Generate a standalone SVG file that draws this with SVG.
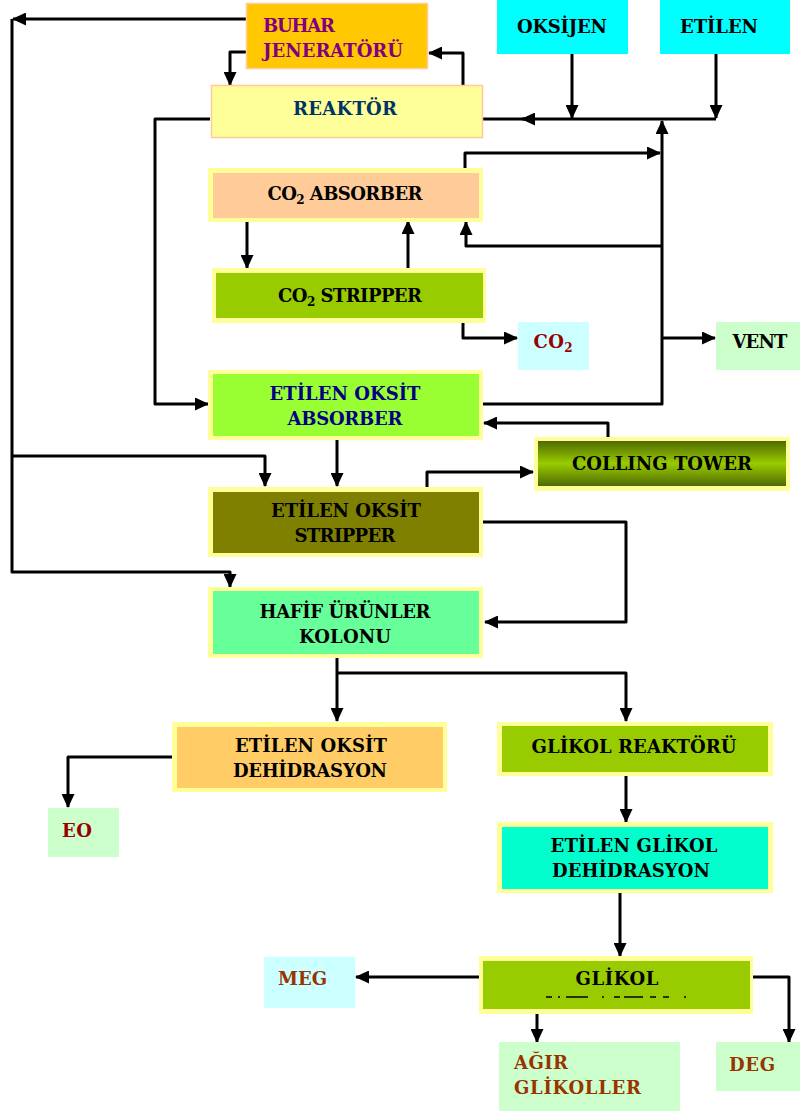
<svg xmlns="http://www.w3.org/2000/svg" width="800" height="1111" viewBox="0 0 800 1111">
  <style>
    text { font-family: "DejaVu Serif", "Liberation Serif", serif; font-weight: bold; font-size: 18px; fill: #000; }
    .mid { text-anchor: middle; }
    .sub { font-size: 12px; }
    .glow { fill: #FFFF99; }
    .flow { fill: none; stroke: #000; stroke-width: 3; stroke-linejoin: round; }
    .purple { fill: #800080; }
    .navy { fill: #003366; }
    .blue { fill: #000080; }
    .red { fill: #990000; }
    .brown { fill: #993300; }
  </style>
  <defs>
    <marker id="arrow" markerUnits="userSpaceOnUse" markerWidth="14" markerHeight="13" refX="13" refY="6.5" orient="auto">
      <path d="M0,0 L14,6.5 L0,13 z" fill="#000"/>
    </marker>
    <linearGradient id="towerFill" x1="0" y1="0" x2="0" y2="1">
      <stop offset="0" stop-color="#4F6A00"/>
      <stop offset="0.5" stop-color="#99CC00"/>
      <stop offset="1" stop-color="#4F6A00"/>
    </linearGradient>
  </defs>

  <!-- connectors -->
  <g id="connectors">
    <path class="flow" d="M246,19 H13" marker-end="url(#arrow)"/>
    <path class="flow" d="M12,19 V572 H230 V587" marker-end="url(#arrow)"/>
    <path class="flow" d="M12,456 H265 V486" marker-end="url(#arrow)"/>
    <path class="flow" d="M246,52 H230 V85" marker-end="url(#arrow)"/>
    <path class="flow" d="M463,85 V53 H429" marker-end="url(#arrow)"/>
    <path class="flow" d="M572,54 V118" marker-end="url(#arrow)"/>
    <path class="flow" d="M716,54 V118" marker-end="url(#arrow)"/>
    <path class="flow" d="M716,119 H522" marker-end="url(#arrow)"/>
    <path class="flow" d="M526,119 H483"/>
    <path class="flow" d="M483,404 H662 V121" marker-end="url(#arrow)"/>
    <path class="flow" d="M465,168 V153 H660" marker-end="url(#arrow)"/>
    <path class="flow" d="M662,246 H466 V222" marker-end="url(#arrow)"/>
    <path class="flow" d="M662,338 H715" marker-end="url(#arrow)"/>
    <path class="flow" d="M247,222 V268" marker-end="url(#arrow)"/>
    <path class="flow" d="M408,268 V221" marker-end="url(#arrow)"/>
    <path class="flow" d="M463,323 V338 H517" marker-end="url(#arrow)"/>
    <path class="flow" d="M210,119 H155 V404 H208" marker-end="url(#arrow)"/>
    <path class="flow" d="M337,440 V486" marker-end="url(#arrow)"/>
    <path class="flow" d="M608,437 V423 H484" marker-end="url(#arrow)"/>
    <path class="flow" d="M427,487 V472 H533" marker-end="url(#arrow)"/>
    <path class="flow" d="M483,522 H626 V622 H485" marker-end="url(#arrow)"/>
    <path class="flow" d="M337,658 V721" marker-end="url(#arrow)"/>
    <path class="flow" d="M337,673 H626 V721" marker-end="url(#arrow)"/>
    <path class="flow" d="M172,757 H68 V807" marker-end="url(#arrow)"/>
    <path class="flow" d="M626,776 V822" marker-end="url(#arrow)"/>
    <path class="flow" d="M620,893 V956" marker-end="url(#arrow)"/>
    <path class="flow" d="M479,977 H356" marker-end="url(#arrow)"/>
    <path class="flow" d="M537,1014 V1042" marker-end="url(#arrow)"/>
    <path class="flow" d="M753,977 H789 V1042" marker-end="url(#arrow)"/>
  </g>

  <!-- process units -->
  <g id="buhar-jeneratoru">
    <rect x="246.5" y="3.5" width="181" height="65" fill="#FFC800" stroke="#FFCC99" stroke-width="1.5"/>
    <text x="263" y="32" class="purple" textLength="72">BUHAR</text>
    <text x="263" y="57" class="purple" textLength="140">JENERATÖRÜ</text>
  </g>
  <g id="reaktor">
    <rect x="211.5" y="85.5" width="271" height="52" fill="#FFFF99" stroke="#FFCC99" stroke-width="1.5"/>
    <text x="345" y="115" class="mid navy" textLength="104">REAKTÖR</text>
  </g>
  <g id="oksijen">
    <rect x="497" y="0" width="131" height="54" fill="#00FFFF"/>
    <text x="562" y="33" class="mid" textLength="90">OKSİJEN</text>
  </g>
  <g id="etilen">
    <rect x="660" y="0" width="130" height="54" fill="#00FFFF"/>
    <text x="719" y="33" class="mid" textLength="78">ETİLEN</text>
  </g>
  <g id="co2-absorber">
    <rect class="glow" x="208" y="168" width="275" height="54"/>
    <rect x="213" y="173" width="266" height="45" fill="#FFCC99"/>
    <text x="345" y="200" class="mid" textLength="155">CO<tspan class="sub" dy="4">2</tspan><tspan dy="-4"> ABSORBER</tspan></text>
  </g>
  <g id="co2-stripper">
    <rect class="glow" x="212" y="268" width="274" height="55"/>
    <rect x="216" y="273" width="267" height="45" fill="#99CC00"/>
    <text x="350" y="302" class="mid" textLength="144">CO<tspan class="sub" dy="4">2</tspan><tspan dy="-4"> STRIPPER</tspan></text>
  </g>
  <g id="co2-cikis">
    <rect x="518" y="322" width="71" height="48" fill="#CCFFFF"/>
    <text x="553" y="348" class="mid red" textLength="39">CO<tspan class="sub" dy="4">2</tspan></text>
  </g>
  <g id="vent">
    <rect x="716" y="322" width="84" height="48" fill="#CCFFCC"/>
    <text x="760" y="348" class="mid" textLength="55">VENT</text>
  </g>
  <g id="etilen-oksit-absorber">
    <rect class="glow" x="208" y="370" width="275" height="70"/>
    <rect x="213" y="374" width="266" height="62" fill="#99FF33"/>
    <text x="345" y="400" class="mid blue" textLength="151">ETİLEN OKSİT</text>
    <text x="345" y="425" class="mid blue" textLength="115">ABSORBER</text>
  </g>
  <g id="colling-tower">
    <rect class="glow" x="534" y="437" width="256" height="54"/>
    <rect x="538" y="441" width="248" height="45" fill="url(#towerFill)"/>
    <text x="662" y="470" class="mid" textLength="180">COLLING TOWER</text>
  </g>
  <g id="etilen-oksit-stripper">
    <rect class="glow" x="208" y="487" width="275" height="70"/>
    <rect x="213" y="492" width="266" height="61" fill="#808000"/>
    <text x="346" y="517" class="mid" textLength="150">ETİLEN OKSİT</text>
    <text x="345" y="542" class="mid" textLength="101">STRIPPER</text>
  </g>
  <g id="hafif-urunler-kolonu">
    <rect class="glow" x="208" y="587" width="275" height="71"/>
    <rect x="213" y="591" width="266" height="63" fill="#66FF99"/>
    <text x="345" y="618" class="mid" textLength="171">HAFİF ÜRÜNLER</text>
    <text x="345" y="643" class="mid" textLength="92">KOLONU</text>
  </g>
  <g id="etilen-oksit-dehidrasyon">
    <rect class="glow" x="172" y="722" width="275" height="70"/>
    <rect x="177" y="727" width="266" height="61" fill="#FFCC66"/>
    <text x="311" y="752" class="mid" textLength="152">ETİLEN OKSİT</text>
    <text x="310" y="777" class="mid" textLength="154">DEHİDRASYON</text>
  </g>
  <g id="eo">
    <rect x="48" y="808" width="71" height="49" fill="#CCFFCC"/>
    <text x="62" y="837" class="red" textLength="30">EO</text>
  </g>
  <g id="glikol-reaktoru">
    <rect class="glow" x="497" y="722" width="276" height="54"/>
    <rect x="502" y="726" width="266" height="46" fill="#99CC00"/>
    <text x="634" y="753" class="mid" textLength="205">GLİKOL REAKTÖRÜ</text>
  </g>
  <g id="etilen-glikol-dehidrasyon">
    <rect class="glow" x="497" y="822" width="276" height="71"/>
    <rect x="502" y="827" width="266" height="62" fill="#00FFCC"/>
    <text x="634" y="852" class="mid" textLength="167">ETİLEN GLİKOL</text>
    <text x="631" y="877" class="mid" textLength="158">DEHİDRASYON</text>
  </g>
  <g id="glikol">
    <rect class="glow" x="479" y="956" width="274" height="58"/>
    <rect x="483" y="961" width="267" height="48" fill="#99CC00"/>
    <text x="617" y="985" class="mid" textLength="83">GLİKOL</text>
    <path d="M546,997 h6 M558,997 h2 M566,997 h22 M602,997 h2 M614,997 h6 M624,997 h19 M650,997 h6 M663,997 h6 M684,997 h2" fill="none" stroke="#000" stroke-width="1.5"/>
  </g>
  <g id="meg">
    <rect x="264" y="957" width="91" height="51" fill="#CCFFFF"/>
    <text x="278" y="985" class="brown" textLength="49">MEG</text>
  </g>
  <g id="agir-glikoller">
    <rect x="499" y="1042" width="181" height="69" fill="#CCFFCC"/>
    <text x="514" y="1069" class="brown" textLength="54">AĞIR</text>
    <text x="514" y="1094" class="brown" textLength="127">GLİKOLLER</text>
  </g>
  <g id="deg">
    <rect x="716" y="1042" width="84" height="49" fill="#CCFFCC"/>
    <text x="729" y="1071" class="brown" textLength="46">DEG</text>
  </g>
</svg>
